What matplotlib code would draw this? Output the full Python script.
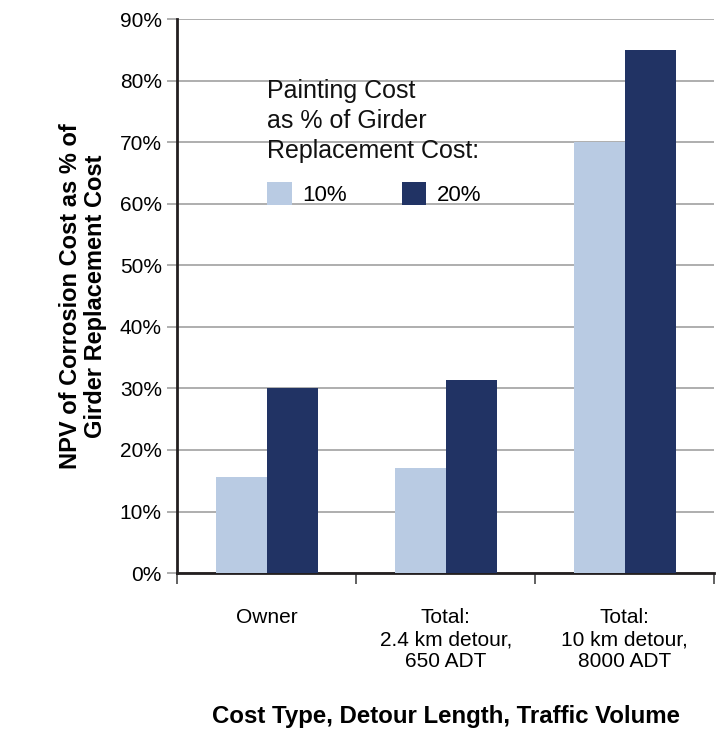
import matplotlib
matplotlib.use("Agg")
import matplotlib.pyplot as plt
import numpy as np

plt.rcParams['font.family'] = ['Liberation Sans', 'DejaVu Sans']

categories = ["Owner", "Total:\n2.4 km detour,\n650 ADT", "Total:\n10 km detour,\n8000 ADT"]
series_names = ["10%", "20%"]
values_10 = [15.6, 17.0, 70.0]
values_20 = [30.0, 31.3, 85.0]
yticks = [0, 10, 20, 30, 40, 50, 60, 70, 80, 90]
colors = ["#b9cbe3", "#213364"]
legend_title = "Painting Cost\nas % of Girder\nReplacement Cost:"

fig = plt.figure(figsize=(7.2, 7.31), dpi=100)
ax = fig.add_axes([0.246, 0.216, 0.746, 0.758])

x = np.arange(len(categories))
w = 0.285
b1 = ax.bar(x - w/2, values_10, width=w, color=colors[0], label=series_names[0], zorder=3)
b2 = ax.bar(x + w/2, values_20, width=w, color=colors[1], label=series_names[1], zorder=3)

ax.set_xlim(-0.5, len(categories) - 0.5)
ax.set_ylim(0, 90)
ax.set_yticks(yticks)
ax.set_yticklabels([f"{v}%" for v in yticks], fontsize=15)
ax.yaxis.grid(True, color="#a8a8a8", linewidth=1.3, zorder=0)
ax.tick_params(axis='y', length=7, color="#a8a8a8", width=1.3, pad=4)

ax.set_xticks(x)
ax.set_xticklabels(categories, fontsize=15, linespacing=1.22)
ax.tick_params(axis='x', which='major', length=0, pad=25)
ax.set_xticks(np.arange(-0.5, len(categories)), minor=True)
ax.tick_params(axis='x', which='minor', length=8, width=1.3, color="#555555", direction='out')

for s in ['top', 'right']:
    ax.spines[s].set_visible(False)
for s in ['left', 'bottom']:
    ax.spines[s].set_color("#231f20")
    ax.spines[s].set_linewidth(2)

ax.set_xlabel("Cost Type, Detour Length, Traffic Volume", fontsize=17.3, fontweight='bold', labelpad=24)
ax.set_ylabel("NPV of Corrosion Cost as % of\nGirder Replacement Cost", fontsize=17, fontweight='bold', labelpad=9, linespacing=1.15)

ax.text(0.168, 0.891, legend_title, transform=ax.transAxes, fontsize=18, ha='left', va='top',
        linespacing=1.3, color="#111111")
leg = ax.legend(handles=[b1, b2], ncol=2, frameon=False, fontsize=16,
                loc='upper left', bbox_to_anchor=(0.168, 0.706),
                handlelength=1.1, handleheight=1.25, columnspacing=2.5, handletextpad=0.45,
                borderaxespad=0, borderpad=0)

fig.savefig("out.png", dpi=100)
